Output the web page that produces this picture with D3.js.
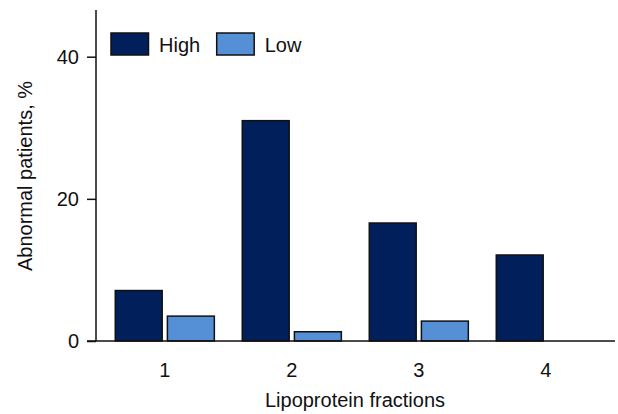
<!DOCTYPE html>
<html>
<head>
<meta charset="utf-8">
<script src="https://cdn.jsdelivr.net/npm/d3@7"></script>
<style>
  body { margin: 0; background: #fff; }
  svg text { font-family: "Liberation Sans", Arial, sans-serif; fill: #111; }
</style>
</head>
<body>
<div id="chart"></div>
<script>
// values
var fractions = ["1", "2", "3", "4"];
var seriesNames = ["High", "Low"];
var highValues = [7.1, 31.0, 16.6, 12.1];
var lowValues = [3.5, 1.3, 2.8, 0];
var yTicks = [0, 20, 40];

var colors = { High: "#001f5b", Low: "#5590d6" };

var width = 618, height = 414;
var fontSize = "20px";

var svg = d3.select("#chart").append("svg")
    .attr("width", width)
    .attr("height", height);

// scales
var y = d3.scaleLinear()
    .domain([0, 40])
    .range([341, 56.7]);

var x0 = d3.scaleBand()
    .domain(fractions)
    .range([101.3, 609.3])
    .paddingInner(0.22)
    .paddingOuter(0.11);

var x1 = d3.scaleBand()
    .domain(seriesNames)
    .range([0, x0.bandwidth()])
    .paddingInner(0.1);

// rows for the grouped bars
var rows = fractions.map(function(f, i) {
    return { fraction: f, values: [
        { key: "High", value: highValues[i] },
        { key: "Low", value: lowValues[i] }
    ]};
});

var groups = svg.append("g").selectAll("g")
    .data(rows)
    .enter().append("g")
    .attr("transform", function(d) { return "translate(" + x0(d.fraction) + ",0)"; });

groups.selectAll("rect")
    .data(function(d) { return d.values.filter(function(v) { return v.value > 0; }); })
    .enter().append("rect")
    .attr("x", function(d) { return x1(d.key); })
    .attr("y", function(d) { return y(d.value); })
    .attr("width", x1.bandwidth())
    .attr("height", function(d) { return y(0) - y(d.value); })
    .attr("fill", function(d) { return colors[d.key]; })
    .attr("stroke", "#111")
    .attr("stroke-width", 1.5);

// y axis
var yAxis = svg.append("g")
    .attr("transform", "translate(96,0)")
    .call(d3.axisLeft(y).tickValues(yTicks).tickSize(9).tickPadding(8).tickSizeOuter(0));
yAxis.select(".domain").remove();
yAxis.selectAll("line").attr("stroke", "#111").attr("stroke-width", 1.5);
yAxis.selectAll("text").style("font-size", fontSize).attr("fill", "#111")
    .attr("font-family", null);

svg.append("line")
    .attr("x1", 96).attr("x2", 96)
    .attr("y1", 10).attr("y2", y(0))
    .attr("stroke", "#111").attr("stroke-width", 1.5);

// x axis
svg.append("line")
    .attr("x1", 87).attr("x2", 615)
    .attr("y1", y(0)).attr("y2", y(0))
    .attr("stroke", "#111").attr("stroke-width", 1.5);

svg.append("g").selectAll("text")
    .data(fractions)
    .enter().append("text")
    .attr("x", function(d) { return x0(d) + x0.bandwidth() / 2; })
    .attr("y", 377)
    .attr("text-anchor", "middle")
    .style("font-size", fontSize)
    .text(function(d) { return d; });

// axis titles
svg.append("text")
    .attr("x", 355)
    .attr("y", 407)
    .attr("text-anchor", "middle")
    .style("font-size", fontSize)
    .text("Lipoprotein fractions");

svg.append("text")
    .attr("transform", "translate(32,176) rotate(-90)")
    .attr("text-anchor", "middle")
    .style("font-size", fontSize)
    .text("Abnormal patients, %");

// legend
var legend = svg.append("g").selectAll("g")
    .data(seriesNames)
    .enter().append("g")
    .attr("transform", function(d, i) { return "translate(" + (111 + i * 105.7) + ",33)"; });

legend.append("rect")
    .attr("width", 37.5)
    .attr("height", 22)
    .attr("fill", function(d) { return colors[d]; })
    .attr("stroke", "#111")
    .attr("stroke-width", 1.5);

legend.append("text")
    .attr("x", 48)
    .attr("y", 19)
    .style("font-size", fontSize)
    .text(function(d) { return d; });
</script>
</body>
</html>
